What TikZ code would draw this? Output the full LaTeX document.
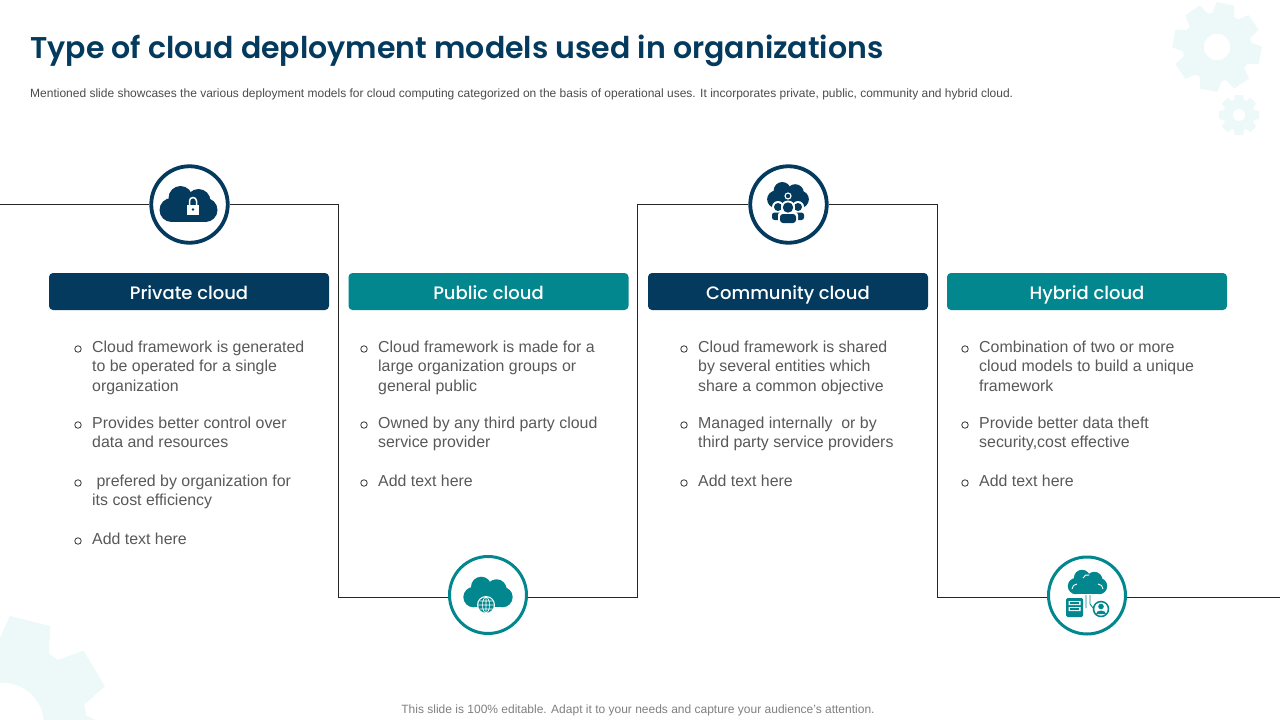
\documentclass[tikz,border=0pt]{standalone}
\usepackage{fontspec}
\setmainfont{Liberation Sans}
\newfontfamily\headfont{Poppins Medium}
\newfontfamily\titlefont{Poppins SemiBold}
\usepackage{tikz}
\usetikzlibrary{positioning}

\definecolor{navy}{HTML}{033A5E}
\definecolor{teal}{HTML}{02878F}
\definecolor{geartint}{HTML}{EDF8F9}
\definecolor{bodygray}{HTML}{595959}

\begin{document}
\begin{tikzpicture}[x=1pt,y=-1pt]

\tikzset{
    wire/.style={draw=black!85, line width=0.9pt},
    ring/.style={circle, draw=#1, line width=3.8pt, fill=white, minimum size=76.5pt, inner sep=0pt},
    header/.style={fill=#1, rounded corners=4pt, minimum width=280pt, minimum height=37pt, inner sep=0pt,
        text height=16pt, text depth=1pt, text=white, font=\headfont\fontsize{18}{22}\selectfont},
    item/.style={anchor=north west, inner sep=0pt, align=left, text=bodygray,
        font=\fontsize{15.9}{19.2}\selectfont},
    dot/.style={circle, draw=black!80, line width=0.8pt, minimum size=6.5pt, inner sep=0pt},
    gear/.pic={
        \foreach \a in {0,45,...,315} {
            \fill[geartint, rotate=\a+#1] (-10,-50) -- (10,-50) -- (13,-34) -- (-13,-34) -- cycle;
        }
        \fill[geartint] (0,0) circle (39);
        \fill[white] (0,0) circle (15);
    },
    cloudblob/.pic={
        \fill (-17,6) circle (12);
        \fill (-8,-6) circle (12);
        \fill (10,-3) circle (12);
        \fill (17,6) circle (12);
        \fill (-17,0) rectangle (17,18);
    }
}

% background
\useasboundingbox (0,0) rectangle (1280,720);
\fill[white] (0,0) rectangle (1280,720);
\pic[scale=0.88] at (1217,47) {gear=-11};
\pic[scale=0.4] at (1239,115) {gear=0};
\begin{scope}
    \clip (0,600) rectangle (130,720);
    \pic[scale=2.08] at (5,722) {gear=-14};
    \fill[white] (3,724) circle (41);
\end{scope}

% title
\node[anchor=west, inner sep=0pt, text=navy, font=\titlefont\fontsize{30}{36}\selectfont] (title) at (30,51)
    {Type of cloud deployment models used in organizations};
\node[anchor=west, inner sep=0pt, text=black!70, font=\fontsize{12}{14}\selectfont] (subtitle) at (30,94)
    {Mentioned slide showcases the various deployment models for cloud computing categorized on the basis of operational uses. It incorporates private, public, community and hybrid cloud.};
\node[inner sep=0pt, text=black!50, font=\fontsize{12}{14}\selectfont] (footer) at (638,710)
    {This slide is 100\% editable. Adapt it to your needs and capture your audience's attention.};

% circles
\node[ring=navy] (privatering) at (189.5,204.5) {};
\node[ring=teal, line width=3pt, minimum size=77pt] (publicring) at (488,595) {};
\node[ring=navy] (communityring) at (788.5,204.5) {};
\node[ring=teal, line width=3pt, minimum size=77pt] (hybridring) at (1087,595.5) {};

% connecting line
\coordinate (start) at (0,204.5);
\coordinate (cornerA) at (338,204.5);
\coordinate (cornerB) at (338,597.5);
\coordinate (cornerC) at (637.5,597.5);
\coordinate (cornerD) at (637.5,204.5);
\coordinate (cornerE) at (937,204.5);
\coordinate (cornerF) at (937,597.5);
\coordinate (finish) at (1280,597.5);
\draw[wire] (start) -- (privatering);
\draw[wire] (privatering) -- (cornerA) -- (cornerB) -- (cornerB -| publicring.west);
\draw[wire] (cornerC -| publicring.east) -- (cornerC) -- (cornerD) -- (communityring);
\draw[wire] (communityring) -- (cornerE) -- (cornerF) -- (cornerF -| hybridring.west);
\draw[wire] (finish -| hybridring.east) -- (finish);

% headers
\node[header=navy] (privatehead) at (189,291.5) {Private cloud};
\node[header=teal] (publichead) at (488.5,291.5) {Public cloud};
\node[header=navy] (communityhead) at (788,291.5) {Community cloud};
\node[header=teal] (hybridhead) at (1087,291.5) {Hybrid cloud};

% private icon
\pic[navy] at (188.5,204) {cloudblob};
\fill[white] (187,205) rectangle (199,214.5);
\draw[white, line width=1.5pt] (189.5,205) -- (189.5,201) arc (180:360:3.5) -- (196.5,205);
\fill[navy] (193,209.5) circle (1.3);

% public icon
\pic[teal, scale=0.85] at (488,592) {cloudblob};
\fill[white] (486,605) circle (9);
\fill[teal] (486,605) circle (7.8);
\draw[white, line width=0.6pt] (486,605) circle (3.5 and 7.8) (478.2,605) -- (493.8,605)
    (479.5,601) -- (492.5,601) (479.5,609) -- (492.5,609) (486,597.2) -- (486,612.8);

% community icon
\pic[navy, scale=0.72] at (788,195) {cloudblob};
\fill[white] (788,196) circle (3.6);
\fill[navy] (788,196) circle (2.2);
\fill[white] (778,207) circle (6) (798,207) circle (6);
\fill[navy] (778,207) circle (4) (798,207) circle (4);
\fill[navy, rounded corners=2.5pt] (772,220) rectangle (785,212.5);
\fill[navy, rounded corners=2.5pt] (791,212.5) rectangle (804,220);
\fill[white] (788,207.5) circle (7);
\fill[white, rounded corners=3pt] (778,224) rectangle (798,212);
\fill[navy] (788,207.5) circle (5.2);
\fill[navy, rounded corners=3pt] (780,223) rectangle (796,214);

% hybrid icon
\pic[teal, scale=0.68] at (1087.5,582) {cloudblob};
\draw[white, line width=0.9pt] (1072,589) arc (180:270:5) (1098,584) arc (270:360:5) (1083,578) arc (200:290:5);
\fill[teal, rounded corners=1.5pt] (1066,598) rectangle (1083,617);
\fill[white] (1068.5,601) rectangle (1080.5,605) (1068.5,607) rectangle (1080.5,611);
\fill[teal] (1070,602) rectangle (1079,604) (1070,608) rectangle (1079,610);
\draw[teal, line width=0.9pt] (1086,595) -- (1086,608) (1090,595) -- (1090,604) -- (1093,608);
\fill[teal] (1101,609) circle (8.3);
\fill[white] (1101,609) circle (6.6);
\fill[teal] (1101,606.5) circle (2.8);
\fill[teal] (1096,614) arc (180:360:5 and 3.5) -- cycle;

% private column
\node[dot] (dotA) at (78,349) {};
\node[item] (itemA) at (92,341) {Cloud framework is generated\\to be operated for a single\\organization};
\node[dot] (dotB) at (78,425) {};
\node[item] (itemB) at (92,417) {Provides better control over\\data and resources};
\node[dot] (dotC) at (78,483) {};
\node[item] (itemC) at (92,475) {\ prefered by organization for\\its cost efficiency};
\node[dot] (dotD) at (78,541) {};
\node[item] (itemD) at (92,533) {Add text here};

% public column
\node[dot] (dotE) at (364,349) {};
\node[item] (itemE) at (378,341) {Cloud framework is made for a\\large organization groups or\\general public};
\node[dot] (dotF) at (364,425) {};
\node[item] (itemF) at (378,417) {Owned by any third party cloud\\service provider};
\node[dot] (dotG) at (364,483) {};
\node[item] (itemG) at (378,475) {Add text here};

% community column
\node[dot] (dotH) at (684,349) {};
\node[item] (itemH) at (698,341) {Cloud framework is shared\\by several entities which\\share a common objective};
\node[dot] (dotI) at (684,425) {};
\node[item] (itemI) at (698,417) {Managed internally\ \ or by\\third party service providers};
\node[dot] (dotJ) at (684,483) {};
\node[item] (itemJ) at (698,475) {Add text here};

% hybrid column
\node[dot] (dotK) at (965,349) {};
\node[item] (itemK) at (979,341) {Combination of two or more\\cloud models to build a unique\\framework};
\node[dot] (dotL) at (965,425) {};
\node[item] (itemL) at (979,417) {Provide better data theft\\security,cost effective};
\node[dot] (dotM) at (965,483) {};
\node[item] (itemM) at (979,475) {Add text here};

\end{tikzpicture}
\end{document}
